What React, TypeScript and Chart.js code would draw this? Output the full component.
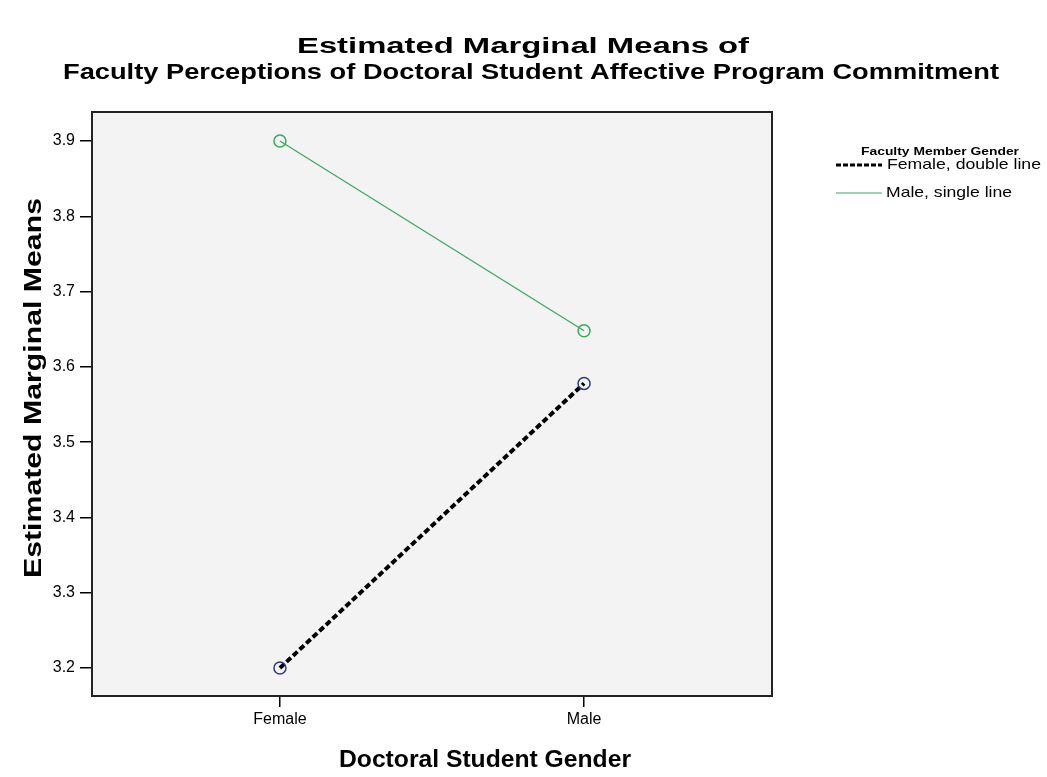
import React, { useEffect, useRef } from "react";
import { Chart, registerables } from "chart.js";
Chart.register(...registerables);

const categories = ["Female", "Male"];
const femaleFacultyMeans = [3.2, 3.578];
const maleFacultyMeans = [3.9, 3.648];
const yTicks = [3.2, 3.3, 3.4, 3.5, 3.6, 3.7, 3.8, 3.9];
const seriesLabels = ["Female, double line", "Male, single line"];
const titleLines = [
  "Estimated Marginal Means of",
  "Faculty Perceptions of Doctoral Student Affective Program Commitment",
];
const yAxisTitle = "Estimated Marginal Means";
const xAxisTitle = "Doctoral Student Gender";
const legendTitle = "Faculty Member Gender";

const FONT = "'Liberation Sans', Arial, sans-serif";
const GREEN = "#3aa85a";
const NAVY = "#2a3a8c";

function stretchText(ctx: any, text: string, x: number, y: number, width: number, align: "center" | "left") {
  const natural = ctx.measureText(text).width;
  const sx = width / natural;
  ctx.save();
  ctx.translate(x, y);
  ctx.scale(sx, 1);
  ctx.textAlign = align;
  ctx.fillText(text, 0, 0);
  ctx.restore();
}

const decorPlugin = {
  id: "decor",
  beforeDraw(chart: any) {
    const { ctx, chartArea: a } = chart;
    ctx.save();
    ctx.fillStyle = "#ffffff";
    ctx.fillRect(0, 0, chart.width, chart.height);
    ctx.fillStyle = "#f3f3f3";
    ctx.fillRect(a.left, a.top, a.right - a.left, a.bottom - a.top);
    ctx.restore();
  },
  afterDraw(chart: any) {
    const { ctx, chartArea: a } = chart;
    ctx.save();
    ctx.strokeStyle = "#222";
    ctx.lineWidth = 2;
    ctx.strokeRect(a.left, a.top, a.right - a.left, a.bottom - a.top);
    ctx.fillStyle = "#000";
    ctx.textBaseline = "middle";
    ctx.font = `bold 22px ${FONT}`;
    stretchText(ctx, titleLines[0], 523, 47, 452, "center");
    stretchText(ctx, titleLines[1], 531, 73, 936, "center");
    ctx.font = `bold 23px ${FONT}`;
    stretchText(ctx, xAxisTitle, 485, 761, 292, "center");
    ctx.save();
    ctx.translate(35, 388);
    ctx.rotate(-Math.PI / 2);
    stretchText(ctx, yAxisTitle, 0, 0, 380, "center");
    ctx.restore();
    // legend
    ctx.font = `bold 10px ${FONT}`;
    stretchText(ctx, legendTitle, 940, 152, 158, "center");
    ctx.font = `15px ${FONT}`;
    ctx.strokeStyle = "#000";
    ctx.lineWidth = 3;
    ctx.setLineDash([5, 2]);
    ctx.beginPath();
    ctx.moveTo(836, 165);
    ctx.lineTo(882, 165);
    ctx.stroke();
    ctx.setLineDash([]);
    stretchText(ctx, seriesLabels[0], 887, 165, 154, "left");
    ctx.strokeStyle = GREEN;
    ctx.lineWidth = 1;
    ctx.beginPath();
    ctx.moveTo(836, 193);
    ctx.lineTo(882, 193);
    ctx.stroke();
    stretchText(ctx, seriesLabels[1], 886, 193, 126, "left");
    ctx.restore();
  },
};

export default function App() {
  const ref = useRef<HTMLCanvasElement>(null);
  useEffect(() => {
    if (!ref.current) return;
    const chart = new Chart(ref.current, {
      type: "line",
      data: {
        datasets: [
          {
            label: seriesLabels[0],
            data: femaleFacultyMeans.map((v, i) => ({ x: i, y: v })),
            borderColor: "#000",
            borderWidth: 4,
            borderDash: [6, 3],
            pointRadius: 6,
            pointBorderWidth: 1.5,
            pointBackgroundColor: "rgba(0,0,0,0)",
            pointBorderColor: NAVY,
            pointStyle: "circle",
          },
          {
            label: seriesLabels[1],
            data: maleFacultyMeans.map((v, i) => ({ x: i, y: v })),
            borderColor: GREEN,
            borderWidth: 1.2,
            pointRadius: 6,
            pointBorderWidth: 1.5,
            pointBackgroundColor: "rgba(0,0,0,0)",
            pointBorderColor: GREEN,
            pointStyle: "circle",
          },
        ],
      },
      options: {
        responsive: false,
        animation: false,
        layout: { padding: { left: 0, top: 112, right: 275, bottom: 0 } },
        plugins: { legend: { display: false }, tooltip: { enabled: false } },
        scales: {
          x: {
            type: "linear",
            min: -0.618,
            max: 1.618,
            afterBuildTicks: (s: any) => {
              s.ticks = categories.map((_, i) => ({ value: i }));
            },
            afterFit: (s: any) => {
              s.height = 81;
            },
            ticks: {
              color: "#000",
              font: { family: FONT, size: 16 },
              padding: 3,
              callback: (v: any) => categories[Number(v)] ?? "",
            },
            grid: { drawOnChartArea: false, tickLength: 11, color: "#000", lineWidth: 1.5 },
            border: { display: true, color: "#222", width: 2 },
          },
          y: {
            type: "linear",
            min: 3.1628,
            max: 3.9385,
            afterBuildTicks: (s: any) => {
              s.ticks = yTicks.map((v) => ({ value: v }));
            },
            afterFit: (s: any) => {
              s.width = 92;
            },
            ticks: {
              color: "#000",
              font: { family: FONT, size: 16 },
              padding: 5,
              callback: (v: any) => Number(v).toFixed(1),
            },
            grid: { drawOnChartArea: false, tickLength: 12, color: "#000", lineWidth: 1.5 },
            border: { display: true, color: "#222", width: 2 },
          },
        },
      },
      plugins: [decorPlugin],
    } as any);
    return () => chart.destroy();
  }, []);
  return (
    <div style={{ position: "absolute", left: 0, top: 0, width: 1047, height: 777 }}>
      <canvas ref={ref} width={1047} height={777} />
    </div>
  );
}
